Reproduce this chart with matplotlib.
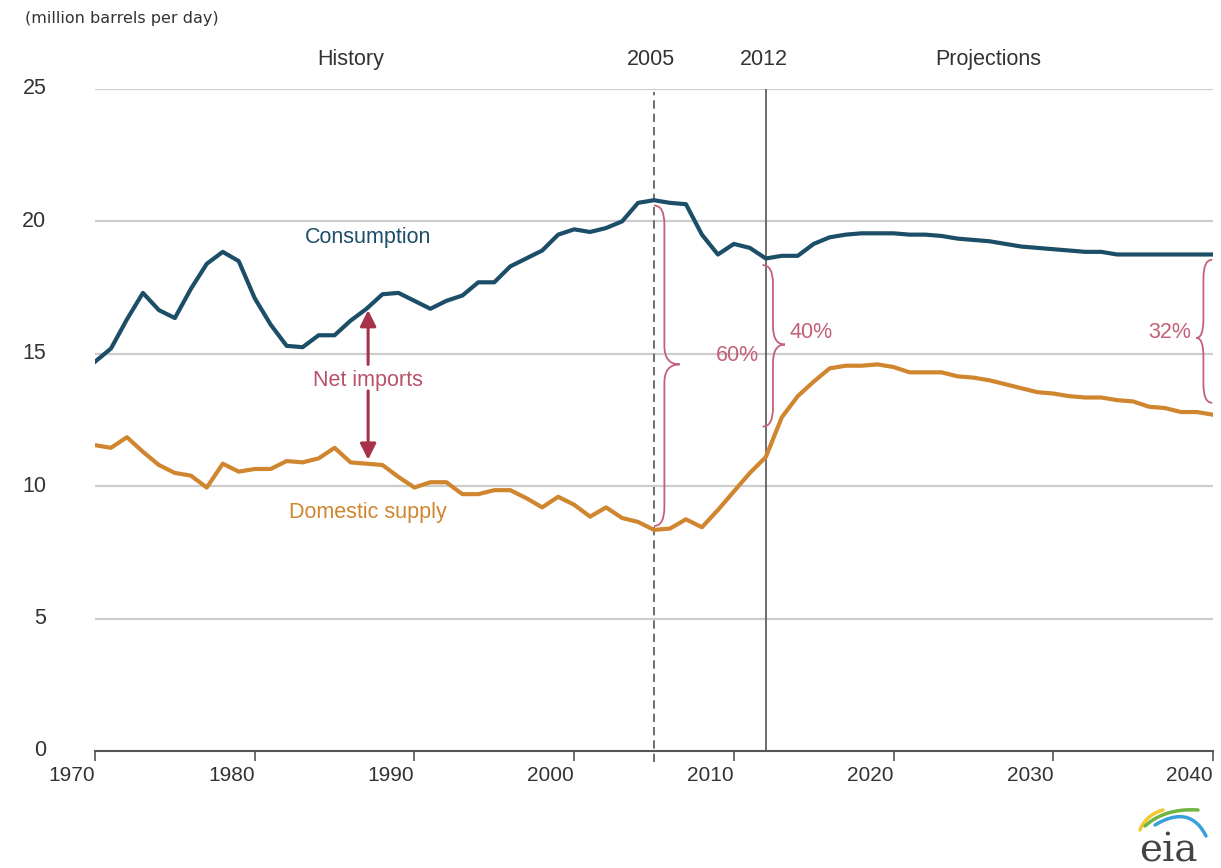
import matplotlib.pyplot as plt
import numpy as np
from matplotlib.path import Path
from matplotlib.patches import PathPatch

plt.rcParams['font.family'] = ['Liberation Sans', 'DejaVu Sans']

years = list(range(1970, 2041))

consumption = [
    14.7, 15.2, 16.3, 17.3, 16.65, 16.35, 17.45, 18.4, 18.85, 18.5,   # 1970s
    17.1, 16.1, 15.3, 15.25, 15.7, 15.7, 16.25, 16.7, 17.25, 17.3,   # 1980s
    17.0, 16.7, 17.0, 17.2, 17.7, 17.7, 18.3, 18.6, 18.9, 19.5,      # 1990s
    19.7, 19.6, 19.75, 20.0, 20.7, 20.8, 20.7, 20.65, 19.5, 18.75,   # 2000s
    19.15, 19.0, 18.6, 18.7, 18.7, 19.15, 19.4, 19.5, 19.55, 19.55,  # 2010s
    19.55, 19.5, 19.5, 19.45, 19.35, 19.3, 19.25, 19.15, 19.05, 19.0,
    18.95, 18.9, 18.85, 18.85, 18.75, 18.75, 18.75, 18.75, 18.75, 18.75,
    18.75,
]

domestic_supply = [
    11.55, 11.45, 11.85, 11.3, 10.8, 10.5, 10.4, 9.95, 10.85, 10.55,
    10.65, 10.65, 10.95, 10.9, 11.05, 11.45, 10.9, 10.85, 10.8, 10.35,
    9.95, 10.15, 10.15, 9.7, 9.7, 9.85, 9.85, 9.55, 9.2, 9.6,
    9.3, 8.85, 9.2, 8.8, 8.65, 8.35, 8.4, 8.75, 8.45, 9.1,
    9.8, 10.5, 11.1, 12.6, 13.4, 13.95, 14.45, 14.55, 14.55, 14.6,
    14.5, 14.3, 14.3, 14.3, 14.15, 14.1, 14.0, 13.85, 13.7, 13.55,
    13.5, 13.4, 13.35, 13.35, 13.25, 13.2, 13.0, 12.95, 12.8, 12.8,
    12.7,
]

xtick_years = [1970, 1980, 1990, 2000, 2010, 2020, 2030, 2040]
ytick_vals = [0, 5, 10, 15, 20, 25]

# brace annotations: end x, spine x, tip x, top y, tip y, bottom y, label, label x, label y
braces = [
    (2005.0, 2005.65, 2006.6, 20.6, 14.6, 8.5, '60%', 2011.6, 14.95),
    (2011.8, 2012.45, 2013.2, 18.35, 15.35, 12.25, '40%', 2013.5, 15.8),
    (2039.95, 2039.4, 2038.95, 18.55, 15.6, 13.15, '32%', 2038.6, 15.8),
]

C_CONS = '#1d4e68'
C_DOM = '#d0852f'
C_PINK = '#c4607a'
C_ARROW = '#a8324a'
C_GRID = '#cdcdcd'
C_AXIS = '#555555'

fig = plt.figure(figsize=(12.21, 8.68), dpi=100)
ax = fig.add_axes([95 / 1221, 1 - 751 / 868, 1118 / 1221, 662 / 868])
ax.set_xlim(1970, 2040)
ax.set_ylim(0, 25)

for v in ytick_vals[1:]:
    ax.axhline(v, color=C_GRID, lw=1.6, zorder=0)

for s in ['top', 'right', 'left']:
    ax.spines[s].set_visible(False)
ax.spines['bottom'].set_color(C_AXIS)
ax.spines['bottom'].set_linewidth(1.5)

ax.set_xticks(xtick_years)
ax.set_xticklabels([str(y) for y in xtick_years], ha='right')
ax.set_yticks(ytick_vals)
ax.set_yticklabels([str(v) for v in ytick_vals], va='center')
ax.tick_params(axis='x', length=7, width=1.2, color=C_AXIS, labelsize=15,
               labelcolor='#333333', pad=4)
ax.tick_params(axis='y', length=0, labelsize=15.5, labelcolor='#333333', pad=35)
for lab in ax.get_yticklabels():
    lab.set_y(lab.get_position()[1])

# vertical reference lines
ax.plot([2005, 2005], [-0.4, 24.9], color=C_AXIS, lw=1.2, ls=(0, (5, 3)),
        clip_on=False, zorder=1)
ax.axvline(2012, ymin=0, ymax=1, color=C_AXIS, lw=1.2, zorder=1)

ax.plot(years, consumption, color=C_CONS, lw=3, solid_joinstyle='round', zorder=3)
ax.plot(years, domestic_supply, color=C_DOM, lw=3, solid_joinstyle='round', zorder=3)

# section headers
for x, t in [(1986.0, 'History'), (2004.8, '2005'), (2011.9, '2012'), (2025.9, 'Projections')]:
    ax.text(x, 26.1, t, ha='center', va='center', fontsize=15.5, color='#333333',
            clip_on=False)

fig.text(25 / 1221, 1 - 19 / 868, '(million barrels per day)', fontsize=11.5,
         color='#333333', ha='left', va='center', family='DejaVu Sans')

ax.text(1987.1, 19.4, 'Consumption', color=C_CONS, fontsize=15.5,
        ha='center', va='center')
ax.text(1987.1, 9.0, 'Domestic supply', color=C_DOM, fontsize=15.5,
        ha='center', va='center')
ax.text(1987.1, 14.0, 'Net imports', color='#b9526a', fontsize=15.5,
        ha='center', va='center', zorder=4)

arrow_kw = dict(arrowstyle='-|>', lw=2.2, color=C_ARROW, mutation_scale=24,
                shrinkA=0, shrinkB=0)
ax.annotate('', xy=(1987.1, 16.65), xytext=(1987.1, 14.6), arrowprops=arrow_kw)
ax.annotate('', xy=(1987.1, 11.0), xytext=(1987.1, 13.6), arrowprops=arrow_kw)


def brace(xe, xs, xt, ytop, ymid, ybot, d=0.7):
    verts = [
        (xe, ytop), (xs, ytop), (xs, ytop - d),
        (xs, ymid + d), (xs, ymid), (xt, ymid),
        (xs, ymid), (xs, ymid - d),
        (xs, ybot + d), (xs, ybot), (xe, ybot),
    ]
    codes = [Path.MOVETO, Path.CURVE3, Path.CURVE3,
             Path.LINETO, Path.CURVE3, Path.CURVE3,
             Path.CURVE3, Path.CURVE3,
             Path.LINETO, Path.CURVE3, Path.CURVE3]
    return PathPatch(Path(verts, codes), fill=False, edgecolor=C_PINK, lw=1.3,
                     zorder=4, clip_on=False)


for xe, xs, xt, yt, ym, yb, lab, lx, ly in braces:
    ax.add_patch(brace(xe, xs, xt, yt, ym, yb))
    ha = 'left' if lab == '40%' else 'right'
    ax.text(lx, ly, lab, color=C_PINK, fontsize=15.5, ha=ha, va='center')

# eia logo (pixel coordinates, y pointing down)
lax = fig.add_axes([1110 / 1221, 0, 111 / 1221, 90 / 868])
lax.set_xlim(1110, 1221)
lax.set_ylim(868, 778)
lax.axis('off')
t = np.linspace(0, 1, 30)


def qcurve(p0, p1, p2):
    x = (1 - t) ** 2 * p0[0] + 2 * (1 - t) * t * p1[0] + t ** 2 * p2[0]
    y = (1 - t) ** 2 * p0[1] + 2 * (1 - t) * t * p1[1] + t ** 2 * p2[1]
    return x, y


lax.plot(*qcurve((1140, 830), (1146, 815), (1163, 810)), color='#f2c831', lw=2.5,
         solid_capstyle='round')
lax.plot(*qcurve((1145, 826), (1165, 808), (1198, 810)), color='#6fb43f', lw=2.5,
         solid_capstyle='round')
lax.plot(*qcurve((1155, 825), (1190, 804), (1206, 836)), color='#3aa0dc', lw=2.5,
         solid_capstyle='round')
lax.text(1168, 862, 'eia', fontsize=28, family=['DejaVu Serif'],
         color='#444444', ha='center', va='baseline')

fig.savefig('out.png', dpi=100)
